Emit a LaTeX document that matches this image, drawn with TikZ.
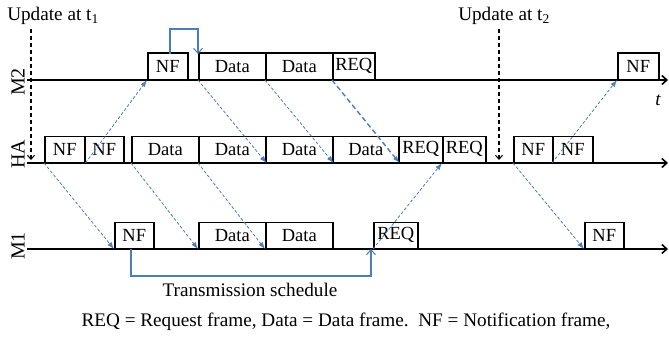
\documentclass[tikz,border=0pt]{standalone}
\usepackage{fontspec}
\setmainfont{Liberation Serif}
\usetikzlibrary{arrows.meta}
\definecolor{lnblue}{HTML}{4A7EBB}
\begin{document}
\begin{tikzpicture}[x=1pt,y=-1pt,
  fr/.style={draw=black,line width=1.5pt,inner sep=0pt,minimum height=26pt,anchor=south west,font=\fontsize{18.5}{20}\selectfont},
  axisln/.style={line width=1.6pt,-{Straight Barb[length=5pt,width=9pt,line width=1.6pt]}},
  msg/.style={draw=lnblue,line width=0.8pt,dash pattern=on 3pt off 2pt,-{Latex[length=7pt,width=5pt]}},
  msgthick/.style={draw=lnblue,line width=1.4pt,dash pattern=on 5pt off 3pt,-{Latex[length=7pt,width=5pt]}},
  upd/.style={line width=1.1pt,dash pattern=on 4pt off 3pt,-{Straight Barb[length=4pt,width=7pt,line width=1pt]}},
  sched/.style={draw=lnblue,line width=1.4pt,-{Straight Barb[length=5pt,width=9pt,line width=1pt]}},
  lbl/.style={font=\fontsize{19.2}{21}\selectfont,inner sep=0pt},
  axlbl/.style={font=\fontsize{20}{22}\selectfont,inner sep=0pt,rotate=90}]
\useasboundingbox (0,0) rectangle (669,337);
% axes
\coordinate (m2s) at (27,80); \coordinate (m2e) at (668,80);
\coordinate (has) at (27,163); \coordinate (hae) at (668,163);
\coordinate (m1s) at (27,249); \coordinate (m1e) at (668,249);
\draw[axisln] (m2s) -- (m2e);
\draw[axisln] (has) -- (hae);
\draw[axisln] (m1s) -- (m1e);
\node[axlbl] (lm2) at (18,82) {M2};
\node[axlbl] (lha) at (18,154) {HA};
\node[axlbl] (lm1) at (18,246) {M1};
\node[lbl,font=\fontsize{19}{20}\selectfont\itshape] (lt) at (658,100) {t};
% M2 frames
\node[fr,minimum width=40pt] (m2nf) at (147,80) {NF};
\node[fr,minimum width=67pt] (m2d1) at (198,80) {Data};
\node[fr,minimum width=67pt] (m2d2) at (265,80) {Data};
\node[fr,minimum width=42pt] (m2req) at (332,80) {REQ};
\node[fr,minimum width=41pt] (m2nf2) at (617,80) {NF};
% HA frames
\node[fr,minimum width=40pt] (hanf1) at (44,163) {NF};
\node[fr,minimum width=39pt] (hanf2) at (84,163) {NF};
\node[fr,minimum width=67pt] (had1) at (131,163) {Data};
\node[fr,minimum width=67pt] (had2) at (198,163) {Data};
\node[fr,minimum width=67pt] (had3) at (265,163) {Data};
\node[fr,minimum width=66pt] (had4) at (332,163) {Data};
\node[fr,minimum width=44pt] (hareq1) at (398,163) {REQ};
\node[fr,minimum width=43pt] (hareq2) at (442,163) {REQ};
\node[fr,minimum width=39pt] (hanf3) at (513,163) {NF};
\node[fr,minimum width=40pt] (hanf4) at (552,163) {NF};
% M1 frames
\node[fr,minimum width=39pt] (m1nf) at (114,249) {NF};
\node[fr,minimum width=67pt] (m1d1) at (198,249) {Data};
\node[fr,minimum width=67pt] (m1d2) at (265,249) {Data};
\node[fr,minimum width=44pt] (m1req) at (373,249) {REQ};
\node[fr,minimum width=39pt] (m1nf2) at (584,249) {NF};
% messages
\draw[msg] (hanf1.south east) -- (m2nf.south west);
\draw[msg] (m2d1.south west) -- (had2.south east);
\draw[msg] (m2d2.south west) -- (had3.south east);
\draw[msgthick] (m2req.south west) -- (had4.south east);
\draw[msg] (m1req.south west) -- (hareq2.south west);
\draw[msg] (hanf4.south west) -- (m2nf2.south west);
\draw[msg] (hanf3.south west) -- (m1nf2.south west);
\draw[msg] (hanf1.south west) -- (m1nf.south west);
\draw[msg] (had1.south west) -- (m1d1.south west);
\draw[msg] (had2.south west) -- (m1d2.south west);
% loop above M2 NF
\coordinate (lpa) at (170,54);
\coordinate (lpb) at (198,54);
\draw[sched] (lpa) -- ++(0,-25) -| (lpb);
% transmission schedule
\coordinate (tsa) at (131,249);
\coordinate (tsb) at (371,249);
\draw[sched] (tsa) -- ++(0,27) -| (tsb);
\node[lbl] (tst) at (250,290) {Transmission schedule};
% updates
\node[lbl] (u1) at (53,16) {Update at t\textsubscript{1}};
\node[lbl] (u2) at (504,16) {Update at t\textsubscript{2}};
\coordinate (u1a) at (31,29); \coordinate (u1b) at (31,160);
\coordinate (u2a) at (499,29); \coordinate (u2b) at (499,160);
\draw[upd] (u1a) -- (u1b);
\draw[upd] (u2a) -- (u2b);
% caption
\node[lbl] (cap) at (346,322) {REQ = Request frame, Data = Data frame.\ \ NF = Notification frame,};
\end{tikzpicture}
\end{document}
